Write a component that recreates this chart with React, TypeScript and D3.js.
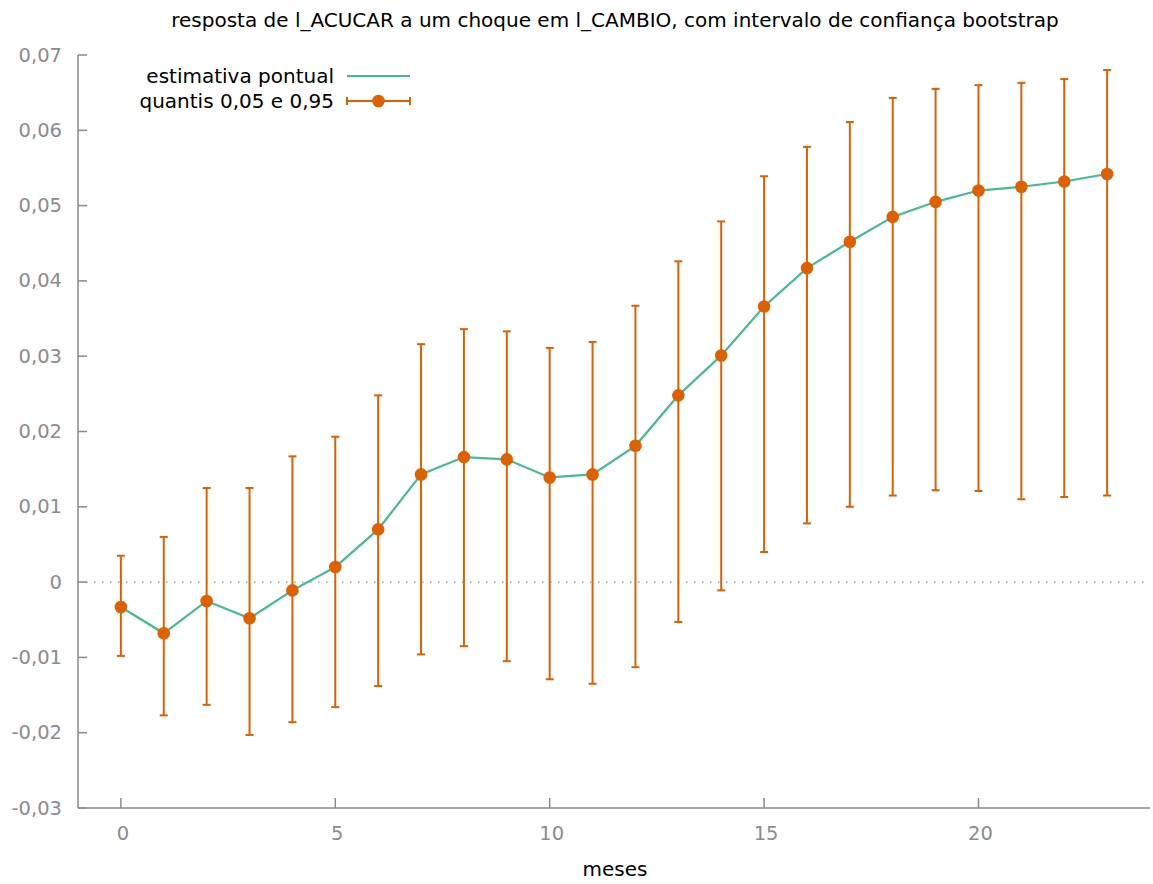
import React from "react";
import * as d3 from "d3";

const months = [0,1,2,3,4,5,6,7,8,9,10,11,12,13,14,15,16,17,18,19,20,21,22,23];
const pointEstimate = [-0.0033,-0.0068,-0.0025,-0.0048,-0.0011,0.0020,0.0070,0.0143,0.0166,0.0163,0.0139,0.0143,0.0181,0.0248,0.0301,0.0366,0.0417,0.0452,0.0485,0.0505,0.0520,0.0525,0.0532,0.0542];
const upperQ = [0.0035,0.0060,0.0125,0.0125,0.0167,0.0193,0.0248,0.0316,0.0336,0.0333,0.0311,0.0319,0.0367,0.0426,0.0479,0.0539,0.0578,0.0611,0.0643,0.0655,0.0660,0.0663,0.0668,0.0680];
const lowerQ = [-0.0098,-0.0177,-0.0163,-0.0203,-0.0186,-0.0166,-0.0138,-0.0096,-0.0085,-0.0105,-0.0129,-0.0135,-0.0113,-0.0053,-0.0011,0.0040,0.0078,0.0100,0.0115,0.0122,0.0121,0.0110,0.0113,0.0115];
const yTicks = [-0.03,-0.02,-0.01,0,0.01,0.02,0.03,0.04,0.05,0.06,0.07];
const xTicks = [0,5,10,15,20];
const title = "resposta de l_ACUCAR a um choque em l_CAMBIO, com intervalo de confiança bootstrap";
const xLabel = "meses";
const legendLabels = ["estimativa pontual", "quantis 0,05 e 0,95"];

const W = 1153, H = 884;
const GREEN = "#45bb93";
const ORANGE = "#dd6100";
const AXIS = "#8a8a8a";
const FONT = "'DejaVu Sans', Verdana, sans-serif";

export default function App() {
  const x = d3.scaleLinear().domain([-1, 24]).range([78, 1150]);
  const y = d3.scaleLinear().domain([-0.03, 0.07]).range([808, 55]);
  const fmt = (v: number) =>
    Math.abs(v) < 1e-9 ? "0" : d3.format(".2f")(v).replace(".", ",").replace("\u2212", "-");
  const line = d3.line<number>().x((_, i) => x(months[i])).y((d) => y(d));
  const cap = 4;
  const legX0 = 347, legX1 = 410;

  return (
    <svg width={W} height={H} style={{ position: "absolute", left: 0, top: 0, background: "#fff" }} fontFamily={FONT}>
      <rect x={0} y={0} width={W} height={H} fill="#fff" />
      <text x={615} y={20} textAnchor="middle" dominantBaseline="central" fontSize={20} fill="#000">{title}</text>

      {/* zero line */}
      <line x1={x(-1)} x2={x(24)} y1={y(0)} y2={y(0)} stroke="#8f8f8f" strokeWidth={1.4} strokeDasharray="1.5,6.5" />

      {/* axes */}
      <line x1={x(-1)} x2={x(-1)} y1={y(0.07)} y2={y(-0.03)} stroke={AXIS} strokeWidth={1.5} />
      <line x1={x(-1)} x2={x(24)} y1={y(-0.03)} y2={y(-0.03)} stroke={AXIS} strokeWidth={1.5} />
      {yTicks.map((t) => (
        <g key={"y" + t}>
          <line x1={x(-1)} x2={x(-1) + 9} y1={y(t)} y2={y(t)} stroke={AXIS} strokeWidth={1.5} />
          <text x={62} y={y(t)} textAnchor="end" dominantBaseline="central" fontSize={19.5} fill="#8a8c90">{fmt(t)}</text>
        </g>
      ))}
      {xTicks.map((t) => (
        <g key={"x" + t}>
          <line x1={x(t)} x2={x(t)} y1={y(-0.03)} y2={y(-0.03) - 10} stroke={AXIS} strokeWidth={1.5} />
          <text x={x(t) + 2} y={833} textAnchor="middle" dominantBaseline="central" fontSize={19.5} fill="#8a8c90">{t}</text>
        </g>
      ))}
      <text x={615} y={869} textAnchor="middle" dominantBaseline="central" fontSize={20} fill="#000">{xLabel}</text>

      {/* point estimate line */}
      <path d={line(pointEstimate) || ""} fill="none" stroke={GREEN} strokeWidth={2.2} />

      {/* error bars */}
      {months.map((m, i) => (
        <g key={"e" + m} stroke={ORANGE} strokeWidth={2}>
          <line x1={x(m)} x2={x(m)} y1={y(lowerQ[i])} y2={y(upperQ[i])} />
          <line x1={x(m) - cap} x2={x(m) + cap} y1={y(lowerQ[i])} y2={y(lowerQ[i])} />
          <line x1={x(m) - cap} x2={x(m) + cap} y1={y(upperQ[i])} y2={y(upperQ[i])} />
        </g>
      ))}
      {months.map((m, i) => (
        <circle key={"c" + m} cx={x(m)} cy={y(pointEstimate[i])} r={6.3} fill={ORANGE} />
      ))}

      {/* legend */}
      <text x={334} y={76} textAnchor="end" dominantBaseline="central" fontSize={20} fill="#000">{legendLabels[0]}</text>
      <line x1={legX0} x2={legX1} y1={76} y2={76} stroke={GREEN} strokeWidth={2.2} />
      <text x={334} y={101} textAnchor="end" dominantBaseline="central" fontSize={20} fill="#000">{legendLabels[1]}</text>
      <g stroke={ORANGE} strokeWidth={2}>
        <line x1={legX0} x2={legX1} y1={101} y2={101} />
        <line x1={legX0} x2={legX0} y1={101 - cap} y2={101 + cap} />
        <line x1={legX1} x2={legX1} y1={101 - cap} y2={101 + cap} />
      </g>
      <circle cx={(legX0 + legX1) / 2} cy={101} r={6.3} fill={ORANGE} />
    </svg>
  );
}
